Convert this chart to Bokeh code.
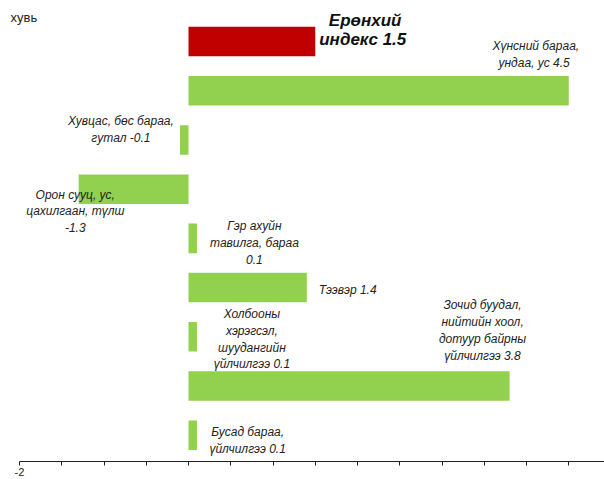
from bokeh.plotting import figure
from bokeh.models import Range1d, FixedTicker, Label, ColumnDataSource
from bokeh.core.properties import value
from bokeh.embed import file_html
from bokeh.resources import INLINE

# ---- data ----
categories = ["Ерөнхий индекс", "Хүнсний бараа, ундаа, ус", "Хувцас, бөс бараа, гутал",
              "Орон сууц, ус, цахилгаан, түлш", "Гэр ахуйн тавилга, бараа", "Тээвэр",
              "Холбооны хэрэгсэл, шуудангийн үйлчилгээ",
              "Зочид буудал, нийтийн хоол, дотуур байрны үйлчилгээ", "Бусад бараа, үйлчилгээ"]
values = [1.5, 4.5, -0.1, -1.3, 0.1, 1.4, 0.1, 3.8, 0.1]
labels = ["Ерөнхий\nиндекс  1.5", "Хүнсний бараа,\nундаа, ус  4.5", "Хувцас, бөс бараа,\nгутал -0.1",
          "Орон сууц, ус,\nцахилгаан, түлш\n-1.3", "Гэр ахуйн\nтавилга, бараа\n0.1", "Тээвэр 1.4",
          "Холбооны\nхэрэгсэл,\nшуудангийн\nүйлчилгээ 0.1",
          "Зочид буудал,\nнийтийн хоол,\nдотуур байрны\nүйлчилгээ 3.8", "Бусад бараа,\nүйлчилгээ 0.1"]
tick_values = [-2, -1.5, -1, -0.5, 0, 0.5, 1, 1.5, 2, 2.5, 3, 3.5, 4, 4.5, 5]
tick_labels = {-2: "-2"}
unit_label = "хувь"

n = len(categories)
ypos = [n - 0.5 - i for i in range(n)]  # category slots, top to bottom

# ---- layout of annotations (data / slot coordinates) ----
label_x = [2.09, 4.11, -0.80, -1.34, 0.78, 1.54, 0.75, 3.48, 0.70]
label_y = [8.74, 8.24, 6.71, 5.05, 4.40, 3.46, 2.45, 2.63, 0.39]
label_align = ["center", "center", "center", "center", "center", "left", "center", "center", "center"]

colors = ["#C00000"] + ["#92D050"] * (n - 1)

y_lo, y_hi = -0.035, 9.335

p = figure(width=604, height=479, output_backend="svg", toolbar_location=None,
           x_range=Range1d(-2.225, 4.923), y_range=Range1d(y_lo, y_hi),
           y_axis_location=None,
           min_border_left=0, min_border_right=0, min_border_top=0, min_border_bottom=18)
p.outline_line_color = None
p.xgrid.visible = False
p.ygrid.visible = False
p.background_fill_color = "white"
p.border_fill_color = "white"

src = ColumnDataSource(dict(y=ypos, val=values, color=colors, cat=categories))
p.hbar(y="y", left=0, right="val", height=0.6, fill_color="color", line_color=None, source=src)

main_src = ColumnDataSource(dict(x=label_x[:1], y=label_y[:1], t=labels[:1]))
p.text(x="x", y="y", text="t", source=main_src, text_font=value("Liberation Sans"),
       text_font_style="bold italic", text_font_size="17px", text_align="center",
       text_baseline="middle", text_color="#111111", text_line_height=1.0)

other_src = ColumnDataSource(dict(x=label_x[1:], y=label_y[1:], t=labels[1:], a=label_align[1:]))
p.text(x="x", y="y", text="t", source=other_src, text_font=value("Liberation Sans"),
       text_font_style="italic", text_font_size="12px", text_align="a",
       text_baseline="middle", text_color="#222222", text_line_height=1.2)

ax = p.xaxis[0]
ax.ticker = FixedTicker(ticks=tick_values)
ax.bounds = (tick_values[0], tick_values[-1])
ax.major_label_overrides = {t: tick_labels.get(t, "") for t in tick_values}
ax.major_label_text_font = "Liberation Sans"
ax.major_label_text_font_size = "11px"
ax.major_label_text_color = "#222222"
ax.major_label_standoff = 2
ax.major_tick_out = 4
ax.major_tick_in = 0
ax.minor_tick_line_color = None
ax.axis_line_color = "#222222"
ax.major_tick_line_color = "#222222"

p.add_layout(Label(x=-2.107, y=8.99, text=unit_label, text_font="Liberation Sans",
                   text_font_size="13px", text_align="left", text_baseline="middle", text_color="#222222"))

open("out.html", "w").write(file_html(p, INLINE))
